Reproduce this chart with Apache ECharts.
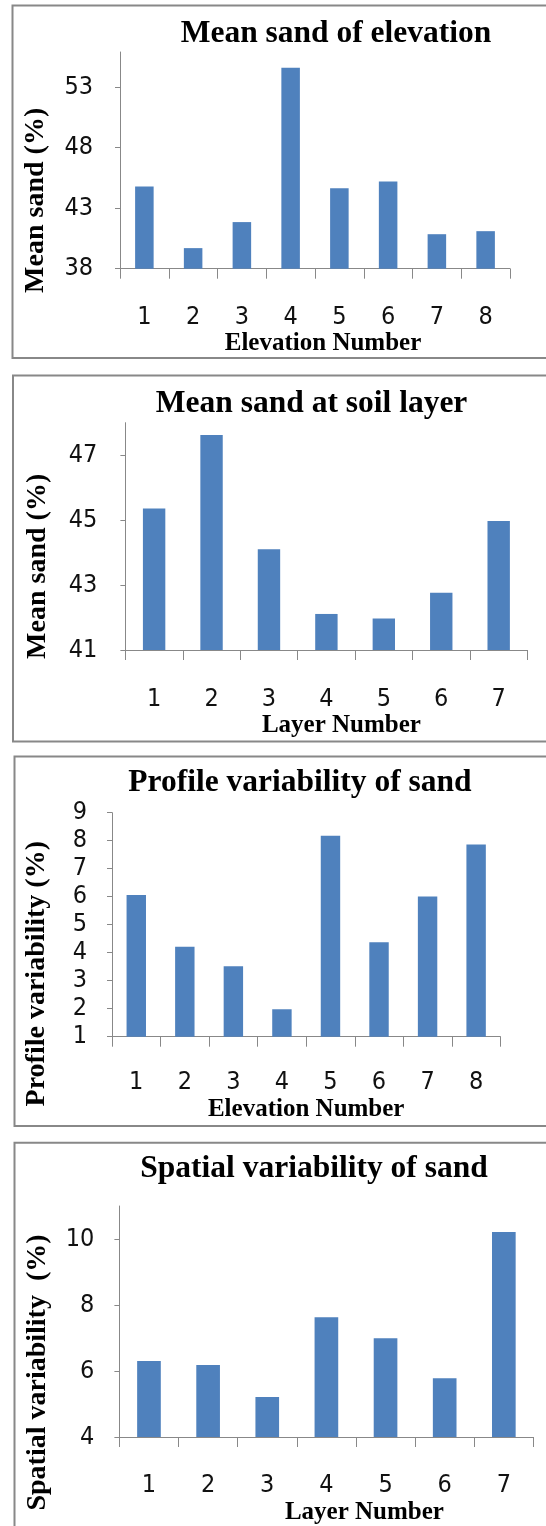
<!DOCTYPE html>
<html><head><meta charset="utf-8">
<script src="https://cdn.jsdelivr.net/npm/echarts@6/dist/echarts.min.js"></script>
<style>html,body{margin:0;padding:0;background:#fff}#c{width:546px;height:1526px}</style>
</head><body><div id="c"></div>
<script>
const elevCats = ['1','2','3','4','5','6','7','8'];
const layerCats = ['1','2','3','4','5','6','7'];
const meanSandElev = [44.8, 39.7, 41.85, 54.6, 44.65, 45.2, 40.85, 41.1];
const meanSandLayer = [45.36, 47.62, 44.1, 42.11, 41.97, 42.76, 44.97];
const profileVar = [6.06, 4.21, 3.52, 1.98, 8.18, 4.37, 6.01, 7.86];
const spatialVar = [6.30, 6.18, 5.21, 7.63, 6.99, 5.78, 10.21];
const elevTicks = [38, 43, 48, 53];
const layerTicks = [41, 43, 45, 47];
const profileTicks = [1, 2, 3, 4, 5, 6, 7, 8, 9];
const spatialTicks = [4, 6, 8, 10];
const titles = ['Mean sand of elevation', 'Mean sand at soil layer', 'Profile variability of sand', 'Spatial variability of sand'];
const yNames = ['Mean sand (%)', 'Mean sand (%)', 'Profile variability (%)', 'Spatial variability  (%)'];
const xNames = ['Elevation Number', 'Layer Number', 'Elevation Number', 'Layer Number'];

const SERIF = "'Liberation Serif','Times New Roman',serif";
const SANS = "'Liberation Sans Narrow','DejaVu Sans Condensed','Noto Sans',sans-serif";
const AX = '#888888';
const BAR = '#4F81BD';

const panels = [
  {cats: elevCats, data: meanSandElev, ticks: elevTicks, min: 38, max: 55.9,
   grid: {left: 120, top: 52, width: 390, height: 216.7},
   title: {x: 336, top: 17.5}, yGap: 70, yShift: 40, yMargin: 27, xMargin: 36, xGap: 59, xShift: 8, barW: '38%'},
  {cats: layerCats, data: meanSandLayer, ticks: layerTicks, min: 41, max: 48,
   grid: {left: 125.4, top: 422.7, width: 402, height: 227.3},
   title: {x: 311.6, top: 388}, yGap: 74, yShift: 30, yMargin: 28, xMargin: 37, xGap: 60, xShift: 15, barW: '39%'},
  {cats: elevCats, data: profileVar, ticks: profileTicks, min: 1, max: 9,
   grid: {left: 112, top: 812.7, width: 388.4, height: 224},
   title: {x: 300, top: 767}, yGap: 61, yShift: 49, yMargin: 25, xMargin: 33, xGap: 60, xShift: 0, barW: '40%'},
  {cats: layerCats, data: spatialVar, ticks: spatialTicks, min: 4, max: 11,
   grid: {left: 119.4, top: 1206, width: 414, height: 236},
   title: {x: 314, top: 1153}, yGap: 68, yShift: 51, yMargin: 25, xMargin: 36, xGap: 63, xShift: 38, barW: '40%'}
];

const option = {
  animation: false,
  backgroundColor: '#fff',
  title: panels.map((p, i) => ({
    text: titles[i], left: p.title.x, top: p.title.top, textAlign: 'center', padding: 0,
    textStyle: {fontFamily: SERIF, fontWeight: 'bold', fontSize: 31.5, color: '#000'}
  })),
  grid: panels.map(p => Object.assign({containLabel: false}, p.grid)),
  xAxis: panels.map((p, i) => ({
    type: 'category', gridIndex: i, data: p.cats, boundaryGap: true,
    axisLine: {show: true, lineStyle: {color: AX, width: 1}},
    axisTick: {show: true, interval: 0, alignWithLabel: false, length: 10, lineStyle: {color: AX}},
    axisLabel: {interval: 0, margin: p.xMargin, fontFamily: SANS, fontSize: 25, color: '#111'},
    name: xNames[i], nameLocation: 'middle', nameGap: p.xGap,
    nameTextStyle: {fontFamily: SERIF, fontWeight: 'bold', fontSize: 25, color: '#000',
      padding: p.xShift > 0 ? [0, 0, 0, 2 * p.xShift] : [0, 0, 0, 0]}
  })),
  yAxis: panels.map((p, i) => ({
    type: 'value', gridIndex: i, min: p.min, max: p.max,
    splitLine: {show: false},
    axisLine: {show: true, lineStyle: {color: AX, width: 1}},
    axisTick: {show: true, length: 5, customValues: p.ticks, lineStyle: {color: AX}},
    axisLabel: {customValues: p.ticks, margin: p.yMargin, fontFamily: SANS, fontSize: 25, color: '#111'},
    name: yNames[i], nameLocation: 'middle', nameGap: p.yGap,
    nameTextStyle: {fontFamily: SERIF, fontWeight: 'bold', fontSize: 28, color: '#000',
      padding: [0, 2 * p.yShift, 0, 0]}
  })),
  series: panels.map((p, i) => ({
    type: 'bar', xAxisIndex: i, yAxisIndex: i, data: p.data, barWidth: p.barW,
    itemStyle: {color: BAR}
  })),
  graphic: [
    {type: 'rect', shape: {x: 12.5, y: 5.5, width: 560, height: 352.5}, style: {fill: 'none', stroke: '#888', lineWidth: 2}, silent: true},
    {type: 'rect', shape: {x: 13, y: 375.5, width: 560, height: 366}, style: {fill: 'none', stroke: '#888', lineWidth: 2}, silent: true},
    {type: 'rect', shape: {x: 14.5, y: 756.5, width: 560, height: 369.5}, style: {fill: 'none', stroke: '#888', lineWidth: 2}, silent: true},
    {type: 'rect', shape: {x: 14.5, y: 1142.7, width: 560, height: 420}, style: {fill: 'none', stroke: '#888', lineWidth: 2}, silent: true}
  ]
};
const chart = echarts.init(document.getElementById('c'), null, {renderer: 'canvas'});
chart.setOption(option);
</script></body></html>
